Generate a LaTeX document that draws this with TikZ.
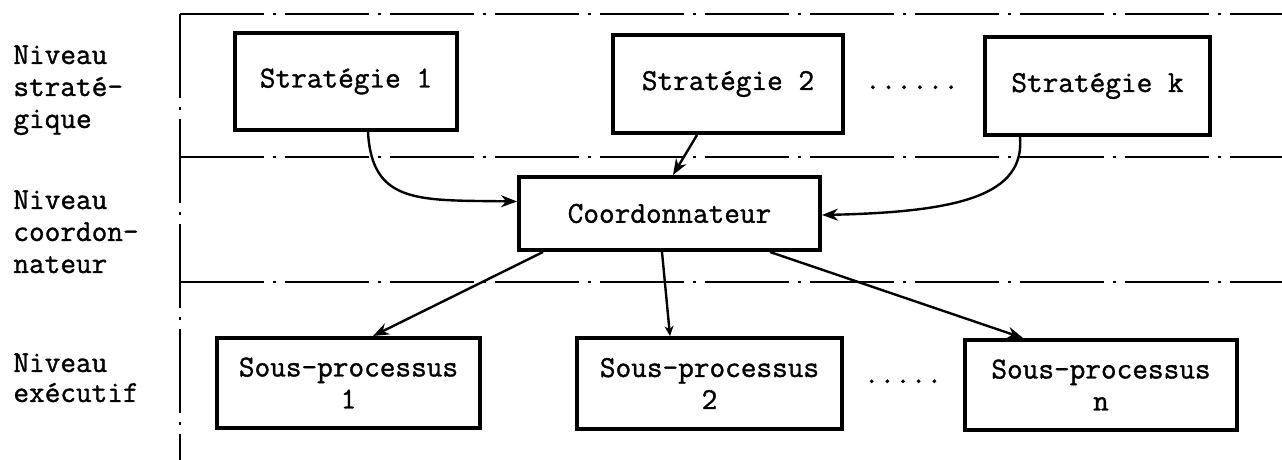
\documentclass[tikz,border=0pt]{standalone}
\usepackage{fontspec}
\newfontfamily\tw[FakeBold=1.2]{Latin Modern Mono}
\usetikzlibrary{arrows.meta}
\begin{document}
\begin{tikzpicture}[x=0.5pt,y=-0.5pt,
  every node/.style={font=\tw\fontsize{15.2}{16}\selectfont},
  box/.style={draw,line width=2pt,inner sep=0pt,align=center},
  level/.style={dash pattern=on 42pt off 4.5pt on 1.5pt off 4.5pt,line width=1.1pt},
  conn/.style={line width=1.2pt,-{Stealth[length=8pt,width=6pt]}},
  smallconn/.style={line width=1.2pt,-{Stealth[length=5pt,width=4.5pt]}},
  lbl/.style={anchor=north west,inner sep=0pt,align=left}]
\useasboundingbox (0,0) rectangle (1282,460);

% level separators
\draw[level] (180,14) -- (180,460);
\draw[level] (180,14) -- (1282,14);
\draw[level] (180,157) -- (1282,157);
\draw[level] (180,282) -- (1282,282);

% level names
\node[lbl] (l1) at (13,45) {Niveau\\straté-\\gique};
\node[lbl] (l2) at (13,190) {Niveau\\coordon-\\nateur};
\node[lbl,font=\tw\fontsize{15.2}{15}\selectfont] (l3) at (13,353) {Niveau\\exécutif};

% strategic level
\node[box,minimum width=111pt,minimum height=48.5pt] (s1) at (346,81.5) {Stratégie 1};
\node[box,minimum width=115pt,minimum height=49pt] (s2) at (728,84) {Stratégie 2};
\node[box,minimum width=112.5pt,minimum height=49pt] (sk) at (1097.5,86) {Stratégie k};
\node[anchor=base,inner sep=0pt] (dk) at (912,89) {......};

% coordinator
\node[box,minimum width=150.5pt,minimum height=36.5pt] (co) at (669.5,213.5) {Coordonnateur};

% executive level
\node[box,minimum width=131.5pt,minimum height=45pt] (p1) at (348.5,383) {Sous-processus\\1};
\node[box,minimum width=132.5pt,minimum height=45.5pt] (p2) at (709.5,383.5) {Sous-processus\\2};
\node[box,minimum width=136pt,minimum height=45pt] (pn) at (1101,385) {Sous-processus\\n};
\node[anchor=base,inner sep=0pt] (dn) at (903,383) {.....};

% strategies to coordinator
\draw[conn] ([xshift=11pt]s1.south) .. controls (372,205) and (420,200) .. ([yshift=6pt]co.west);
\draw[conn] ([xshift=-15.5pt]s2.south) -- ([xshift=1.75pt]co.north);
\draw[conn] ([xshift=-38.75pt]sk.south) .. controls (1025,195) and (960,212) .. ([yshift=-0.75pt]co.east);

% coordinator to sub-processes
\draw[conn] ([xshift=-63.25pt]co.south) -- ([xshift=12.25pt]p1.north);
\draw[smallconn] ([xshift=-3.75pt]co.south) -- ([xshift=-19.75pt]p2.north);
\draw[conn] ([xshift=50.25pt]co.south) -- ([xshift=-39pt]pn.north);
\end{tikzpicture}
\end{document}
